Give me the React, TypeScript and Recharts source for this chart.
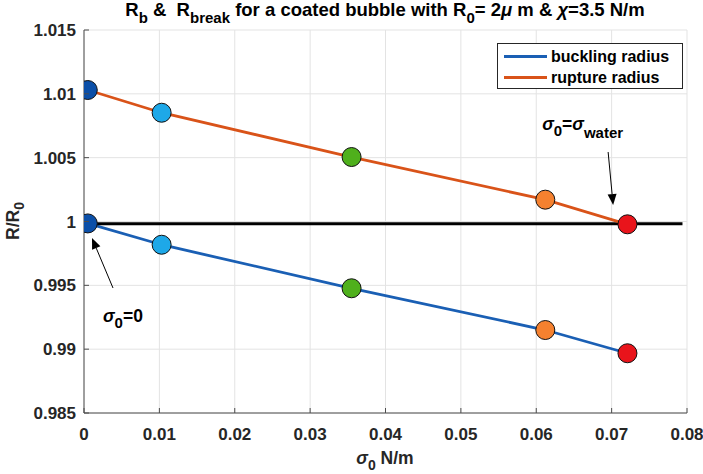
import React from 'react';
import { ComposedChart, Line, XAxis, YAxis, CartesianGrid, Legend, Scatter } from 'recharts';

// ---- data ----
const sigma0 = [0.0005, 0.0103, 0.0355, 0.0612, 0.0721];
const bucklingRadius = [0.99985, 0.99818, 0.99477, 0.9915, 0.98968];
const ruptureRadius = [1.0103, 1.00852, 1.00505, 1.00171, 0.99978];
const markerColors = ['#0b4fa8', '#1ea8e8', '#4fb01c', '#f5812f', '#e9141b'];
const referenceX = [0.0002, 0.0794];
const referenceY = [0.99982, 0.99982];
const annotationX = [0.00106, 0.0702];
const annotationY = [0.99871, 1.00129];
const xTicks = [0, 0.01, 0.02, 0.03, 0.04, 0.05, 0.06, 0.07, 0.08];
const yTicks = [0.985, 0.99, 0.995, 1, 1.005, 1.01, 1.015];
const seriesNames = ['buckling radius', 'rupture radius'];
const seriesColors = ['#1a5fb4', '#d95319'];

const bucklingData = sigma0.map((x, i) => ({ x, y: bucklingRadius[i] }));
const ruptureData = sigma0.map((x, i) => ({ x, y: ruptureRadius[i] }));
const referenceData = referenceX.map((x, i) => ({ x, y: referenceY[i] }));
const annotationData = annotationX.map((x, i) => ({ x, y: annotationY[i], idx: i }));

const FONT = '"Liberation Sans", Arial, Helvetica, sans-serif';
const TXT = '#262626';
const AX = '#4d4d4d';
const TICK_LEN = 5;
const fmt = (v: number) => Number(v.toFixed(3)).toString();

const BottomTick = (p: any) => (
  <g>
    <line x1={p.x} y1={p.y} x2={p.x} y2={p.y - TICK_LEN} stroke={AX} strokeWidth={1} />
    <text x={p.x} y={p.y + 27} textAnchor="middle" fontFamily={FONT} fontWeight="bold" fontSize={17} fill={TXT}>
      {fmt(p.payload.value)}
    </text>
  </g>
);
const TopTick = (p: any) => (
  <line x1={p.x} y1={p.y} x2={p.x} y2={p.y + TICK_LEN} stroke={AX} strokeWidth={1} />
);
const LeftTick = (p: any) => (
  <g>
    <line x1={p.x} y1={p.y} x2={p.x + TICK_LEN} y2={p.y} stroke={AX} strokeWidth={1} />
    <text x={p.x - 8} y={p.y + 6} textAnchor="end" fontFamily={FONT} fontWeight="bold" fontSize={17} fill={TXT}>
      {fmt(p.payload.value)}
    </text>
  </g>
);
const RightTick = (p: any) => (
  <line x1={p.x} y1={p.y} x2={p.x - TICK_LEN} y2={p.y} stroke={AX} strokeWidth={1} />
);

const MarkerDot = (props: any) => {
  const { cx, cy, index } = props;
  if (cx == null || cy == null) return <g />;
  return <circle cx={cx} cy={cy} r={9.5} fill={markerColors[index]} stroke="#111" strokeWidth={1} />;
};

const Arrow = ({ x1, y1, x2, y2 }: any) => {
  const a = Math.atan2(y2 - y1, x2 - x1);
  const L = 11, W = 4.5;
  const bx = x2 - L * Math.cos(a), by = y2 - L * Math.sin(a);
  const px = -Math.sin(a) * W, py = Math.cos(a) * W;
  return (
    <g>
      <line x1={x1} y1={y1} x2={bx} y2={by} stroke="#000" strokeWidth={1} />
      <polygon points={`${x2},${y2} ${bx + px},${by + py} ${bx - px},${by - py}`} fill="#000" />
    </g>
  );
};

const AnnotationShape = (props: any) => {
  const { cx, cy, payload } = props;
  if (cx == null || cy == null) return <g />;
  if (payload.idx === 0) {
    return (
      <g>
        <Arrow x1={cx + 21} y1={cy + 50} x2={cx} y2={cy} />
        <text x={cx + 11} y={cy + 84} fontFamily={FONT} fontWeight="bold" fontSize={17.5} fill="#000">
          <tspan fontStyle="italic">σ</tspan>
          <tspan fontSize={15} dy={6}>0</tspan>
          <tspan dy={-6}>=0</tspan>
        </text>
      </g>
    );
  }
  return (
    <g>
      <Arrow x1={cx - 5} y1={cy - 53} x2={cx} y2={cy} />
      <text x={cx - 71} y={cy - 75} fontFamily={FONT} fontWeight="bold" fontSize={17.5} fill="#000">
        <tspan fontStyle="italic">σ</tspan>
        <tspan fontSize={15} dy={6}>0</tspan>
        <tspan dy={-6}>=</tspan>
        <tspan fontStyle="italic">σ</tspan>
        <tspan fontSize={15} dy={8}>water</tspan>
      </text>
    </g>
  );
};

const LegendBox = () => (
  <div
    style={{
      width: 184,
      height: 44,
      border: '1px solid #262626',
      background: '#fff',
      fontFamily: FONT,
      fontWeight: 'bold',
      fontSize: 16,
      color: '#000',
      boxSizing: 'content-box',
    }}
  >
    {seriesNames.map((n, i) => (
      <div key={n} style={{ display: 'flex', alignItems: 'center', height: 21, marginTop: i === 0 ? 2 : 0 }}>
        <div style={{ width: 43, height: 3, background: seriesColors[i], marginLeft: 6, marginRight: 4 }} />
        <span>{n}</span>
      </div>
    ))}
  </div>
);

export default function App() {
  return (
    <div style={{ position: 'absolute', left: 0, top: 0, width: 703, height: 474, background: '#fff' }}>
      <ComposedChart
        width={703}
        height={474}
        margin={{ top: 30, right: 16, bottom: 31, left: 24 }}
        style={{ fontFamily: FONT }}
      >
        <CartesianGrid stroke="#e3e3e3" strokeWidth={1} />
        <XAxis
          dataKey="x"
          type="number"
          domain={[0, 0.08]}
          ticks={xTicks}
          height={30}
          allowDataOverflow
          stroke={AX}
          tickLine={false}
          tickSize={0}
          tickMargin={0}
          tick={(p: any) => <BottomTick key={`bt${p.index}`} {...p} />}
          interval={0}
        />
        <XAxis
          xAxisId="top"
          orientation="top"
          dataKey="x"
          type="number"
          domain={[0, 0.08]}
          ticks={xTicks}
          height={0}
          allowDataOverflow
          stroke={AX}
          tickLine={false}
          tickSize={0}
          tickMargin={0}
          tick={(p: any) => <TopTick key={`tt${p.index}`} {...p} />}
          interval={0}
        />
        <YAxis
          type="number"
          domain={[0.985, 1.015]}
          ticks={yTicks}
          width={60}
          allowDataOverflow
          stroke={AX}
          tickLine={false}
          tickSize={0}
          tickMargin={0}
          tick={(p: any) => <LeftTick key={`lt${p.index}`} {...p} />}
          interval={0}
        />
        <YAxis
          yAxisId="right"
          orientation="right"
          type="number"
          domain={[0.985, 1.015]}
          ticks={yTicks}
          width={0}
          allowDataOverflow
          stroke={AX}
          tickLine={false}
          tickSize={0}
          tickMargin={0}
          tick={(p: any) => <RightTick key={`rt${p.index}`} {...p} />}
          interval={0}
        />
        <Legend
          layout="vertical"
          align="center"
          verticalAlign="middle"
          wrapperStyle={{ position: 'absolute', left: 497, top: 43, width: 186 }}
          content={() => <LegendBox />}
        />
        <Line
          data={bucklingData}
          dataKey="y"
          name={seriesNames[0]}
          stroke={seriesColors[0]}
          strokeWidth={2.8}
          dot={(p: any) => <MarkerDot key={`b${p.index}`} {...p} />}
          activeDot={false}
          isAnimationActive={false}
        />
        <Line
          data={referenceData}
          dataKey="y"
          name="reference"
          stroke="#000"
          strokeWidth={3}
          dot={false}
          activeDot={false}
          legendType="none"
          isAnimationActive={false}
        />
        <Line
          data={ruptureData}
          dataKey="y"
          name={seriesNames[1]}
          stroke={seriesColors[1]}
          strokeWidth={2.8}
          dot={(p: any) => <MarkerDot key={`r${p.index}`} {...p} />}
          activeDot={false}
          isAnimationActive={false}
        />
        <Scatter
          data={annotationData}
          dataKey="y"
          name="annotations"
          legendType="none"
          shape={(p: any) => <AnnotationShape {...p} />}
          isAnimationActive={false}
        />
      </ComposedChart>
      <svg
        width={703}
        height={474}
        style={{ position: 'absolute', left: 0, top: 0, pointerEvents: 'none' }}
      >
        <text x={385} y={16} textAnchor="middle" fontFamily={FONT} fontWeight="bold" fontSize={18.5} fill="#000">
          <tspan>R</tspan>
          <tspan fontSize={15} dy={7}>b</tspan>
          <tspan dy={-7} xmlSpace="preserve">{' &  R'}</tspan>
          <tspan fontSize={15} dy={7}>break</tspan>
          <tspan dy={-7}>{' for a coated bubble with R'}</tspan>
          <tspan fontSize={15} dy={7}>0</tspan>
          <tspan dy={-7}>{'= 2'}</tspan>
          <tspan fontStyle="italic">μ</tspan>
          <tspan>{' m & '}</tspan>
          <tspan fontStyle="italic">χ</tspan>
          <tspan>=3.5 N/m</tspan>
        </text>
        <text
          transform="translate(19,221) rotate(-90)"
          textAnchor="middle"
          fontFamily={FONT}
          fontWeight="bold"
          fontSize={17.5}
          fill={TXT}
        >
          <tspan>R/R</tspan>
          <tspan fontSize={14} dy={5}>0</tspan>
        </text>
        <text x={385} y={464} textAnchor="middle" fontFamily={FONT} fontWeight="bold" fontSize={17.5} fill={TXT}>
          <tspan fontStyle="italic">σ</tspan>
          <tspan fontSize={14} dy={6}>0</tspan>
          <tspan dy={-6}>{' N/m'}</tspan>
        </text>
      </svg>
    </div>
  );
}
